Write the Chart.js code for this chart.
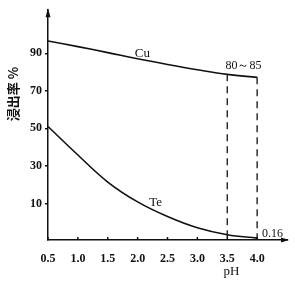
<!DOCTYPE html>
<html>
<head>
<meta charset="utf-8">
<script src="https://cdn.jsdelivr.net/npm/chart.js@4"></script>
<style>
  html, body { margin: 0; padding: 0; background: #fff; }
  #chart { display: block; }
</style>
</head>
<body>
<canvas id="chart" width="295" height="285"></canvas>
<script>
// pH values shared by both curves
const phValues = [0.5, 1.0, 1.5, 2.0, 2.5, 3.0, 3.5, 4.0];
// 浸出率 %
const cuValues = [96.6, 93.6, 90.4, 87.1, 84.1, 81.3, 78.8, 77.2];
const teValues = [51.0, 35.8, 21.4, 10.8, 3.0, -3.0, -6.7, -8.5];
// dashed markers at the chosen pH range
const dashPh = [3.5, 4.0];
const dashTop = [78.8, 77.2];
// tick labels
const xTicks = [0.5, 1.0, 1.5, 2.0, 2.5, 3.0, 3.5, 4.0];
const yTicks = [10, 30, 50, 70, 90];

const yMin = -9.5;
const yMax = 113;
const ink = '#111';
const serif = '"Liberation Serif", "DejaVu Serif", serif';

function toPoints(xs, ys) {
    return xs.map((x, i) => ({ x: x, y: ys[i] }));
}

const dashSets = dashPh.map((ph, i) => ({
    data: [{ x: ph, y: dashTop[i] }, { x: ph, y: yMin }],
    borderColor: ink,
    borderWidth: 1.3,
    borderDash: [7, 5],
    pointRadius: 0,
    tension: 0
}));

// Axis arrows, inside x ticks and text labels
const decorations = {
    id: 'decorations',
    afterDraw(chart) {
        const ctx = chart.ctx;
        const xs = chart.scales.x;
        const ys = chart.scales.y;
        const area = chart.chartArea;
        ctx.save();
        ctx.strokeStyle = ink;
        ctx.fillStyle = ink;
        ctx.lineWidth = 1.5;

        // x tick marks point up into the plot
        xTicks.forEach(v => {
            const px = xs.getPixelForValue(v);
            ctx.beginPath();
            ctx.moveTo(px, area.bottom);
            ctx.lineTo(px, area.bottom - 3);
            ctx.stroke();
        });

        // arrow heads
        ctx.beginPath();
        ctx.moveTo(area.right + 2, area.bottom);
        ctx.lineTo(area.right - 6, area.bottom - 2.5);
        ctx.lineTo(area.right - 6, area.bottom + 2.5);
        ctx.closePath();
        ctx.fill();
        ctx.beginPath();
        ctx.moveTo(area.left, area.top - 2);
        ctx.lineTo(area.left - 2.5, area.top + 7);
        ctx.lineTo(area.left + 2.5, area.top + 7);
        ctx.closePath();
        ctx.fill();

        // curve and value labels
        ctx.textBaseline = 'middle';
        ctx.textAlign = 'center';
        ctx.font = '13px ' + serif;
        ctx.fillText('Cu', xs.getPixelForValue(2.08), ys.getPixelForValue(90));
        ctx.fillText('Te', xs.getPixelForValue(2.3), ys.getPixelForValue(10.5));
        ctx.font = '12px ' + serif;
        ctx.fillText('80～85', xs.getPixelForValue(3.77), ys.getPixelForValue(83.2));
        ctx.textAlign = 'left';
        ctx.fillText('0.16', xs.getPixelForValue(4.08), ys.getPixelForValue(-6.3));
        ctx.textAlign = 'center';
        ctx.font = '13px ' + serif;
        ctx.fillText('pH', xs.getPixelForValue(3.57), area.bottom + 32);

        // vertical y title, reads bottom to top
        ctx.translate(13, 94);
        ctx.rotate(-Math.PI / 2);
        ctx.font = 'bold 13px "Noto Sans CJK SC", sans-serif';
        ctx.fillText('浸出率 %', 0, 0);
        ctx.restore();
    }
};

new Chart(document.getElementById('chart'), {
    type: 'line',
    data: {
        datasets: [
            {
                label: 'Cu',
                data: toPoints(phValues, cuValues),
                borderColor: ink,
                borderWidth: 1.6,
                pointRadius: 0,
                tension: 0.4
            },
            {
                label: 'Te',
                data: toPoints(phValues, teValues),
                borderColor: ink,
                borderWidth: 1.6,
                pointRadius: 0,
                tension: 0.4
            },
            ...dashSets
        ]
    },
    options: {
        responsive: false,
        animation: false,
        events: [],
        layout: { padding: { top: 5, right: 8, left: 0, bottom: 0 } },
        plugins: {
            legend: { display: false },
            tooltip: { enabled: false }
        },
        scales: {
            x: {
                type: 'linear',
                min: 0.5,
                max: 4.5,
                afterBuildTicks: s => { s.ticks = xTicks.map(v => ({ value: v })); },
                afterFit: s => { s.height = 45; },
                grid: { display: false },
                border: { display: true, color: ink, width: 1.5 },
                ticks: {
                    color: ink,
                    padding: 4,
                    maxRotation: 0,
                    autoSkip: false,
                    font: { family: serif, size: 12, weight: 'bold' },
                    callback: v => v.toFixed(1)
                }
            },
            y: {
                type: 'linear',
                min: yMin,
                max: yMax,
                afterBuildTicks: s => { s.ticks = yTicks.map(v => ({ value: v })); },
                afterFit: s => { s.width = 48; },
                grid: { drawOnChartArea: false, drawTicks: true, tickLength: 3, color: ink, lineWidth: 1.5 },
                border: { display: true, color: ink, width: 1.5 },
                ticks: {
                    color: ink,
                    padding: 3,
                    autoSkip: false,
                    font: { family: serif, size: 12, weight: 'bold' }
                }
            }
        }
    },
    plugins: [decorations]
});
</script>
</body>
</html>
